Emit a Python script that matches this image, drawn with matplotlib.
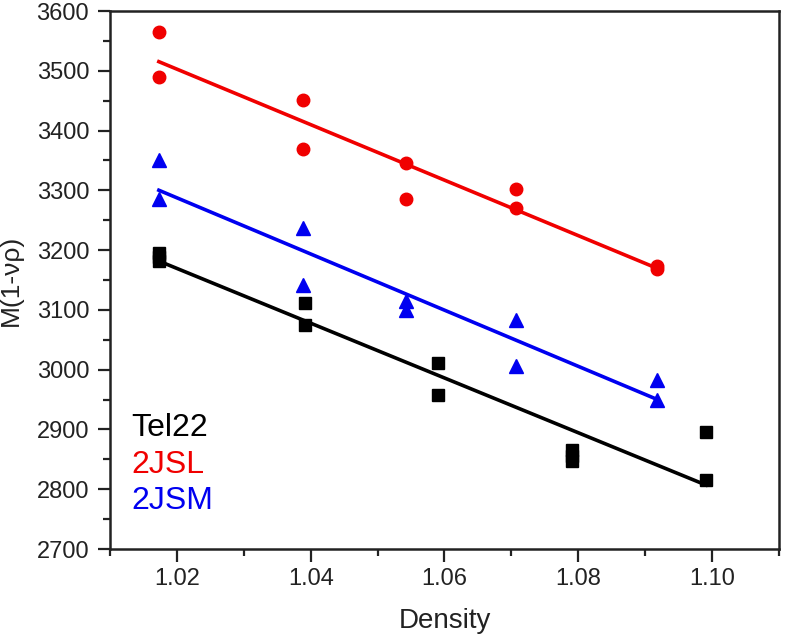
import numpy as np
import matplotlib
matplotlib.use("Agg")
import matplotlib.pyplot as plt
from matplotlib.ticker import MultipleLocator

plt.rcParams['font.family'] = ['Liberation Sans', 'DejaVu Sans']

# Tel22 (black squares)
tel_x = [1.0173, 1.0173, 1.0173, 1.0391, 1.0391, 1.0591, 1.0591, 1.0791, 1.0791, 1.0791, 1.0991, 1.0991]
tel_y = [3196, 3188, 3181, 3112, 3075, 3011, 2958, 2865, 2856, 2847, 2895, 2815]

# 2JSL (red circles)
jsl_x = [1.0173, 1.0173, 1.0389, 1.0389, 1.0542, 1.0542, 1.0707, 1.0707, 1.0917, 1.0917]
jsl_y = [3565, 3490, 3451, 3369, 3346, 3286, 3303, 3270, 3174, 3169]

# 2JSM (blue triangles)
jsm_x = [1.0173, 1.0173, 1.0389, 1.0389, 1.0542, 1.0542, 1.0707, 1.0707, 1.0917, 1.0917]
jsm_y = [3351, 3285, 3237, 3142, 3115, 3099, 3083, 3006, 2983, 2950]

series = [
    ("Tel22", tel_x, tel_y, "black", "s", 8),
    ("2JSL", jsl_x, jsl_y, "#f00000", "o", 9),
    ("2JSM", jsm_x, jsm_y, "#0000f0", "^", 9.5),
]

fig = plt.figure(figsize=(7.85, 6.37), dpi=100)
ax = fig.add_axes([110 / 785, 1 - 549 / 637, 669 / 785, 538 / 637])

for name, x, y, c, m, ms in series:
    x = np.array(x)
    y = np.array(y)
    k, b = np.polyfit(x, y, 1)
    xs = np.array([x.min(), x.max()])
    ax.plot(xs, k * xs + b, color=c, lw=2.6, zorder=2)
    ax.plot(x, y, ls="none", marker=m, ms=ms, color=c, mec=c, zorder=3)

ax.set_xlim(1.01, 1.11)
ax.set_ylim(2700, 3600)
ax.set_xticks([1.02, 1.04, 1.06, 1.08, 1.10])
ax.set_xticklabels(["1.02", "1.04", "1.06", "1.08", "1.10"])
ax.xaxis.set_minor_locator(MultipleLocator(0.01))
ax.yaxis.set_major_locator(MultipleLocator(100))
ax.yaxis.set_minor_locator(MultipleLocator(50))
ax.tick_params(which="both", direction="out", top=False, right=False, width=1.6,
               color="#222222", labelcolor="#222222")
ax.tick_params(which="major", length=9, labelsize=17, pad=6)
ax.tick_params(axis="x", which="major", pad=5)
ax.tick_params(which="minor", length=5)
for s in ax.spines.values():
    s.set_linewidth(1.8)
    s.set_color("#222222")

ax.set_xlabel("Density", fontsize=20, labelpad=13, color="#222222")
ax.set_ylabel("M(1-νρ)", fontsize=19, labelpad=10, color="#222222")

for i, (name, x, y, c, m, ms) in enumerate(series):
    ax.text(0.032, 0.225 - i * 0.068, name, color=c, fontsize=23,
            transform=ax.transAxes, va="center", ha="left")

fig.savefig("out.png", dpi=100)
